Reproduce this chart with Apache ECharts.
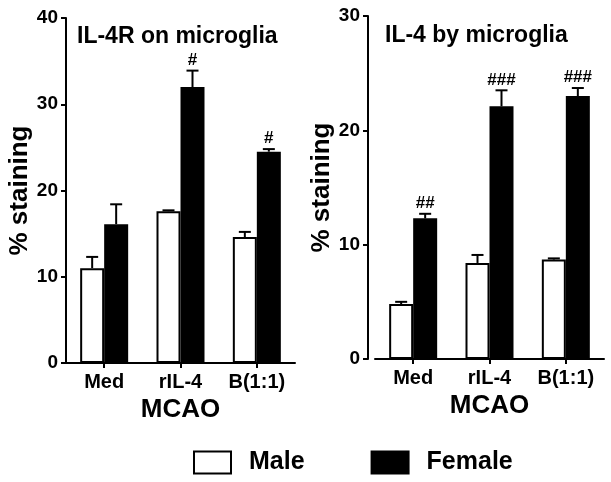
<!DOCTYPE html>
<html><head><meta charset="utf-8">
<script src="https://cdn.jsdelivr.net/npm/echarts@6/dist/echarts.min.js"></script>
<style>html,body{margin:0;padding:0;background:#fff}#c{width:611px;height:482px}</style>
</head><body><div id="c"></div>
<script>
const categories = ['Med', 'rIL-4', 'B(1:1)'];
const leftTicks = [0, 10, 20, 30, 40];
const rightTicks = [0, 10, 20, 30];
const il4rMale = [11.0, 17.6, 14.6];
const il4rMaleErr = [1.3, 0.1, 0.6];
const il4rFemale = [16.1, 32.0, 24.5];
const il4rFemaleErr = [2.3, 1.9, 0.3];
const il4rFemaleSig = ['', '#', '#'];
const il4Male = [4.8, 8.4, 8.7];
const il4MaleErr = [0.2, 0.7, 0.1];
const il4Female = [12.3, 22.1, 23.0];
const il4FemaleErr = [0.4, 1.4, 0.7];
const il4FemaleSig = ['##', '###', '###'];

const FONT = "'Liberation Sans', Arial, sans-serif";
const chart = echarts.init(document.getElementById('c'));

function errData(vals, errs, sign, sigs) {
  return vals.map((v, i) => [i, v, errs[i], sign, sigs ? sigs[i] : '']);
}
function errSeries(xi, data) {
  return {
    type: 'custom', xAxisIndex: xi, yAxisIndex: xi, z: 5, silent: true,
    renderItem: function (params, api) {
      const base = api.coord([api.value(0), api.value(1)]);
      const top = api.coord([api.value(0), api.value(1) + api.value(2)]);
      const x = base[0] + api.value(3) * 12;
      const sig = data[params.dataIndex][4];
      const children = [
        { type: 'line', shape: { x1: x, y1: base[1], x2: x, y2: top[1] }, style: { stroke: '#000', lineWidth: 2 } },
        { type: 'line', shape: { x1: x - 6, y1: top[1], x2: x + 6, y2: top[1] }, style: { stroke: '#000', lineWidth: 2 } }
      ];
      if (sig) {
        children.push({ type: 'text', style: { text: sig, x: x, y: top[1] - 2, align: 'center', verticalAlign: 'bottom',
          font: 'bold 17px ' + FONT, fill: '#000' } });
      }
      return { type: 'group', children: children };
    },
    data: data
  };
}
function yAxis(gi, max, name, offset) {
  return {
    type: 'value', gridIndex: gi, min: 0, max: max, interval: 10, offset: offset,
    axisLine: { show: true, lineStyle: { color: '#000', width: 2 } },
    axisTick: { show: true, length: 5, lineStyle: { color: '#000', width: 2 } },
    splitLine: { show: false },
    axisLabel: { color: '#000', fontFamily: FONT, fontWeight: 'bold', fontSize: 19, margin: 8 },
    name: name, nameLocation: 'middle', nameGap: 32,
    nameTextStyle: { color: '#000', fontFamily: FONT, fontWeight: 'bold', fontSize: 26 }
  };
}
function xAxis(gi) {
  return {
    type: 'category', gridIndex: gi, data: categories,
    axisLine: { show: true, lineStyle: { color: '#000', width: 2 } },
    axisTick: { show: true, alignWithLabel: true, length: 5, lineStyle: { color: '#000', width: 2 } },
    axisLabel: { color: '#000', fontFamily: FONT, fontWeight: 'bold', fontSize: 20, margin: 9 },
    name: 'MCAO', nameLocation: 'middle', nameGap: 31,
    nameTextStyle: { color: '#000', fontFamily: FONT, fontWeight: 'bold', fontSize: 26 }
  };
}
const maleStyle = { color: '#fff', borderColor: '#000', borderWidth: 2 };
const femaleStyle = { color: '#000', borderColor: '#000', borderWidth: 2 };

chart.setOption({
  animation: false,
  backgroundColor: '#fff',
  title: [
    { text: 'IL-4R on microglia', left: 77, top: 25, padding: 0, textStyle: { fontFamily: FONT, fontWeight: 'bold', fontSize: 23, color: '#000' } },
    { text: 'IL-4 by microglia', left: 385, top: 24, padding: 0, textStyle: { fontFamily: FONT, fontWeight: 'bold', fontSize: 23, color: '#000' } }
  ],
  legend: {
    left: 193, top: 450, padding: 0, itemWidth: 37, itemHeight: 22, itemGap: 66, icon: 'rect',
    data: ['Male', 'Female'],
    textStyle: { fontFamily: FONT, fontWeight: 'bold', fontSize: 25, color: '#000', padding: [0, 0, 0, 13] }
  },
  grid: [
    { left: 66, right: 316, top: 18, bottom: 119 },
    { left: 375, right: 7, top: 16, bottom: 123 }
  ],
  xAxis: [xAxis(0), xAxis(1)],
  yAxis: [yAxis(0, 40, '% staining', 0), yAxis(1, 30, '% staining', 7)],
  series: [
    { name: 'Male', type: 'bar', xAxisIndex: 0, yAxisIndex: 0, barWidth: 24, barGap: '0%', itemStyle: maleStyle, data: il4rMale },
    { name: 'Female', type: 'bar', xAxisIndex: 0, yAxisIndex: 0, barWidth: 24, barGap: '0%', itemStyle: femaleStyle, data: il4rFemale },
    { name: 'Male', type: 'bar', xAxisIndex: 1, yAxisIndex: 1, barWidth: 24, barGap: '0%', itemStyle: maleStyle, data: il4Male },
    { name: 'Female', type: 'bar', xAxisIndex: 1, yAxisIndex: 1, barWidth: 24, barGap: '0%', itemStyle: femaleStyle, data: il4Female },
    errSeries(0, errData(il4rMale, il4rMaleErr, -1)),
    errSeries(0, errData(il4rFemale, il4rFemaleErr, 1, il4rFemaleSig)),
    errSeries(1, errData(il4Male, il4MaleErr, -1)),
    errSeries(1, errData(il4Female, il4FemaleErr, 1, il4FemaleSig))
  ]
});
</script></body></html>
